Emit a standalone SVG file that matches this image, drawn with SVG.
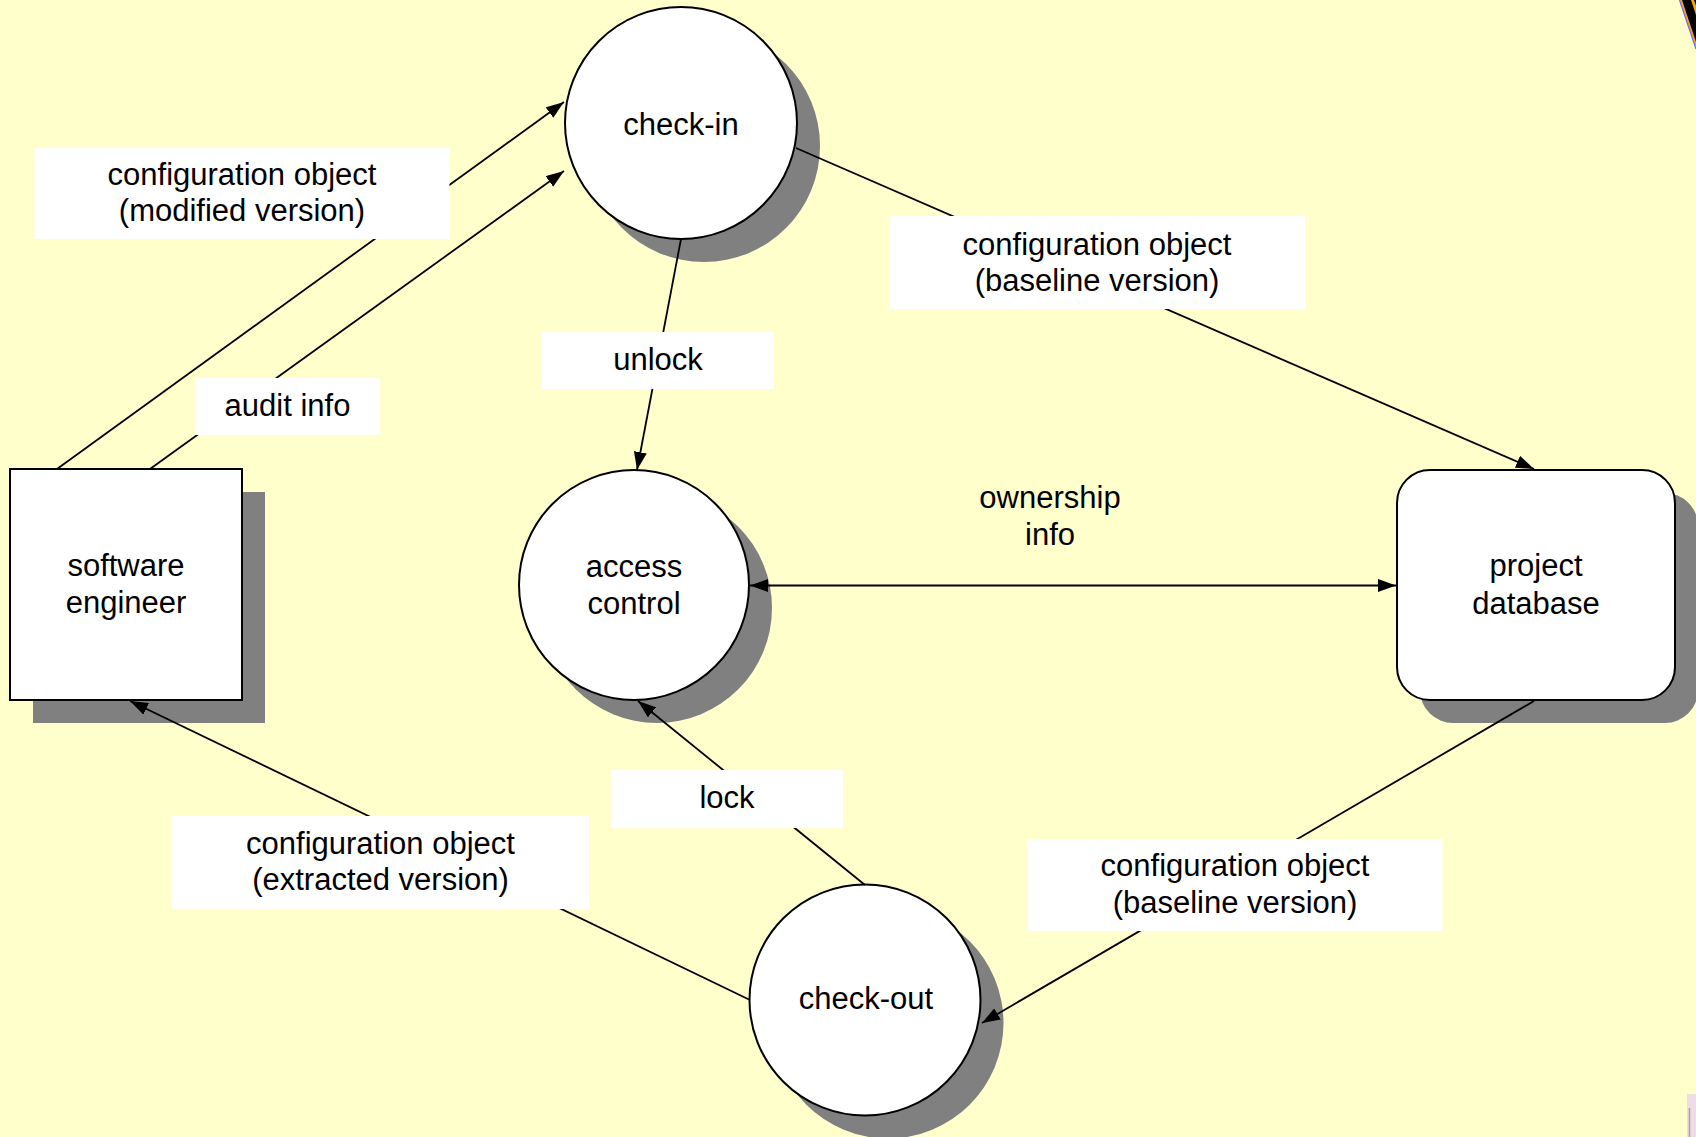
<svg xmlns="http://www.w3.org/2000/svg" width="1696" height="1137" viewBox="0 0 1696 1137">
  <style>
    .node { fill: #ffffff; stroke: #000000; stroke-width: 2; }
    .shadow { fill: #808080; stroke: none; }
    .txt { font-family: "Liberation Sans", Arial, sans-serif; font-size: 31px; fill: #000000; text-anchor: middle; }
    .edge { stroke: #000000; stroke-width: 1.8; fill: none; }
    .lbl { fill: #ffffff; stroke: none; }
  </style>
  <defs>
    <marker id="arrow" markerUnits="userSpaceOnUse" markerWidth="18" markerHeight="13" refX="18" refY="6.5" orient="auto-start-reverse">
      <path d="M0,0 L18,6.5 L0,13 z" fill="#000000"/>
    </marker>
  </defs>

  <!-- page background -->
  <rect x="0" y="0" width="1696" height="1137" fill="#ffffcc"/>

  <!-- slide decoration, top-right corner -->
  <g id="corner-stripe">
    <polygon points="1680,0 1696,0 1696,48" fill="#f5a800"/>
    <polygon points="1682,0 1691,0 1696,15 1696,42" fill="#000000"/>
    <line x1="1679.5" y1="0" x2="1696" y2="49" stroke="#7a5cff" stroke-width="1.2"/>
    <polygon points="1694,0 1696,0 1696,6" fill="#000000"/>
  </g>
  <!-- slide decoration, bottom-right corner -->
  <g id="corner-tab">
    <rect x="1687" y="1094" width="9" height="43" fill="#f0dce4"/>
    <line x1="1689.5" y1="1108" x2="1689.5" y2="1137" stroke="#a8a0a4" stroke-width="1.5"/>
  </g>

  <!-- nodes -->
  <g id="check-in">
    <circle class="shadow" cx="704" cy="146" r="116"/>
    <circle class="node" cx="681" cy="123" r="116"/>
    <text class="txt" x="681" y="135">check-in</text>
  </g>

  <g id="software-engineer">
    <rect class="shadow" x="33" y="492" width="232" height="231"/>
    <rect class="node" x="10" y="469" width="232" height="231"/>
    <text class="txt" x="126" y="576">software</text>
    <text class="txt" x="126" y="613">engineer</text>
  </g>

  <g id="access-control">
    <circle class="shadow" cx="657" cy="608" r="115"/>
    <circle class="node" cx="634" cy="585" r="115"/>
    <text class="txt" x="634" y="577">access</text>
    <text class="txt" x="634" y="614">control</text>
  </g>

  <g id="project-database">
    <rect class="shadow" x="1420" y="493" width="278" height="230" rx="33" ry="33"/>
    <rect class="node" x="1397" y="470" width="278" height="230" rx="33" ry="33"/>
    <text class="txt" x="1536" y="576">project</text>
    <text class="txt" x="1536" y="614">database</text>
  </g>

  <g id="check-out">
    <circle class="shadow" cx="888" cy="1023" r="115.5"/>
    <circle class="node" cx="865" cy="1000" r="115.5"/>
    <text class="txt" x="866" y="1009">check-out</text>
  </g>

  <!-- connectors with their labels -->
  <g id="connectors">
    <line class="edge" x1="57" y1="469" x2="564" y2="102" marker-end="url(#arrow)"/>
    <line class="edge" x1="150" y1="469" x2="564" y2="171" marker-end="url(#arrow)"/>
    <line class="edge" x1="796" y1="148" x2="1534" y2="469" marker-end="url(#arrow)"/>
    <line class="edge" x1="681" y1="239" x2="637" y2="470" marker-end="url(#arrow)"/>
    <line class="edge" x1="865" y1="885" x2="638" y2="701" marker-end="url(#arrow)"/>
    <line class="edge" x1="750" y1="1000" x2="130" y2="701" marker-end="url(#arrow)"/>
    <line class="edge" x1="1534" y1="701" x2="982" y2="1023" marker-end="url(#arrow)"/>
    <line class="edge" x1="750" y1="585.5" x2="1396" y2="585.5" marker-start="url(#arrow)" marker-end="url(#arrow)"/>

    <g id="label-modified">
      <rect class="lbl" x="34.5" y="148" width="415" height="91"/>
      <text class="txt" x="242" y="185">configuration object</text>
      <text class="txt" x="242" y="221">(modified version)</text>
    </g>
    <g id="label-audit">
      <rect class="lbl" x="195" y="378" width="185" height="57"/>
      <text class="txt" x="287.5" y="416">audit info</text>
    </g>
    <g id="label-baseline-in">
      <rect class="lbl" x="889" y="216" width="416" height="93"/>
      <text class="txt" x="1097" y="255">configuration object</text>
      <text class="txt" x="1097" y="291">(baseline version)</text>
    </g>
    <g id="label-unlock">
      <rect class="lbl" x="542" y="332" width="232" height="57"/>
      <text class="txt" x="658" y="370">unlock</text>
    </g>
    <g id="label-ownership">
      <text class="txt" x="1050" y="508">ownership</text>
      <text class="txt" x="1050" y="545">info</text>
    </g>
    <g id="label-lock">
      <rect class="lbl" x="611" y="770" width="232" height="58"/>
      <text class="txt" x="727" y="808">lock</text>
    </g>
    <g id="label-extracted">
      <rect class="lbl" x="172" y="816" width="417" height="93"/>
      <text class="txt" x="380.5" y="854">configuration object</text>
      <text class="txt" x="380.5" y="890">(extracted version)</text>
    </g>
    <g id="label-baseline-out">
      <rect class="lbl" x="1027.5" y="839" width="415" height="92"/>
      <text class="txt" x="1235" y="876">configuration object</text>
      <text class="txt" x="1235" y="913">(baseline version)</text>
    </g>
  </g>
</svg>
